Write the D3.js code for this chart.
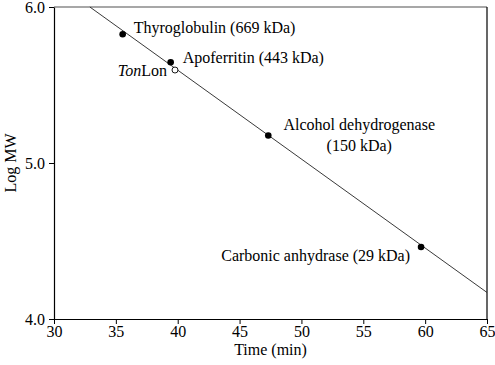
<!DOCTYPE html>
<html>
<head>
<meta charset="utf-8">
<script src="https://cdn.jsdelivr.net/npm/d3@7"></script>
<style>
  body { margin: 0; background: #fff; }
  svg text { font-family: "Liberation Serif", "Times New Roman", serif; fill: #000; }
</style>
</head>
<body>
<div id="chart"></div>
<script>
// Calibration standards: elution time (min) vs log MW
const proteins = ["Thyroglobulin", "Apoferritin", "Alcohol dehydrogenase", "Carbonic anhydrase"];
const proteinKda = [669, 443, 150, 29];
const proteinTime = [35.55, 39.43, 47.32, 59.67];
const proteinLogMw = [5.825, 5.646, 5.176, 4.462];

// TonLon sample (open circle)
const sampleTime = [39.78];
const sampleLogMw = [5.596];

// fitted line, drawn between two end points
const fitTime = [32.9, 65];
const fitLogMw = [6.0, 4.17];

const xTicks = [30, 35, 40, 45, 50, 55, 60, 65];
const yTicks = [4.0, 5.0, 6.0];

const width = 495;
const height = 365;
const margin = { top: 7, right: 8, bottom: 46, left: 54 };

const svg = d3
  .select("#chart")
  .append("svg")
  .attr("width", width)
  .attr("height", height);

const x = d3.scaleLinear().domain([30, 65]).range([margin.left, width - margin.right]);
const y = d3.scaleLinear().domain([4, 6]).range([height - margin.bottom, margin.top]);

const fontSize = "16px";

// frame: top grey, right black
svg
  .append("line")
  .attr("x1", x(30))
  .attr("x2", x(65))
  .attr("y1", y(6))
  .attr("y2", y(6))
  .attr("stroke", "#8a8a8a")
  .attr("stroke-width", 1.5);
svg
  .append("line")
  .attr("x1", x(65))
  .attr("x2", x(65))
  .attr("y1", y(6))
  .attr("y2", y(4))
  .attr("stroke", "#000")
  .attr("stroke-width", 1.2);

// axes
const xAxis = svg
  .append("g")
  .attr("transform", `translate(0,${y(4)})`)
  .call(d3.axisBottom(x).tickValues(xTicks).tickSize(5).tickPadding(2).tickSizeOuter(0));
const yAxis = svg
  .append("g")
  .attr("transform", `translate(${x(30)},0)`)
  .call(d3.axisLeft(y).tickValues(yTicks).tickFormat(d3.format(".1f")).tickSize(5).tickPadding(4).tickSizeOuter(0));

[xAxis, yAxis].forEach((a) => {
  a.select(".domain").attr("stroke", "#000").attr("stroke-width", 1.2);
  a.selectAll(".tick line").attr("stroke", "#000").attr("stroke-width", 1);
  a.selectAll("text")
    .style("font-family", '"Liberation Serif", serif')
    .style("font-size", fontSize)
    .attr("fill", "#000");
});

svg
  .append("text")
  .attr("x", (x(30) + x(65)) / 2)
  .attr("y", 355)
  .attr("text-anchor", "middle")
  .style("font-size", fontSize)
  .text("Time (min)");

svg
  .append("text")
  .attr("transform", `translate(16,${y(5)}) rotate(-90)`)
  .attr("text-anchor", "middle")
  .style("font-size", fontSize)
  .text("Log MW");

// fitted line
const fit = fitTime.map((t, i) => [t, fitLogMw[i]]);
svg
  .append("path")
  .datum(fit)
  .attr("d", d3.line().x((d) => x(d[0])).y((d) => y(d[1])))
  .attr("fill", "none")
  .attr("stroke", "#222")
  .attr("stroke-width", 0.9);

// standards
const standards = proteins.map((p, i) => ({
  name: p,
  kda: proteinKda[i],
  t: proteinTime[i],
  v: proteinLogMw[i],
}));

svg
  .selectAll(".std")
  .data(standards)
  .enter()
  .append("circle")
  .attr("class", "std")
  .attr("cx", (d) => x(d.t))
  .attr("cy", (d) => y(d.v))
  .attr("r", 3.3)
  .attr("fill", "#000");

svg
  .selectAll(".sample")
  .data(sampleTime)
  .enter()
  .append("circle")
  .attr("class", "sample")
  .attr("cx", (d) => x(d))
  .attr("cy", (d, i) => y(sampleLogMw[i]))
  .attr("r", 3)
  .attr("fill", "#fff")
  .attr("stroke", "#000")
  .attr("stroke-width", 0.9);

// labels
const lab = (tx, ty, anchor, str) =>
  svg
    .append("text")
    .attr("x", tx)
    .attr("y", ty)
    .attr("text-anchor", anchor)
    .style("font-size", fontSize)
    .text(str);

const s = standards;
lab(x(s[0].t) + 11, y(s[0].v) - 1, "start", `${s[0].name} (${s[0].kda} kDa)`);
lab(x(s[1].t) + 12, y(s[1].v) + 1, "start", `${s[1].name} (${s[1].kda} kDa)`);
lab(x(s[2].t) + 91, y(s[2].v) - 6, "middle", s[2].name);
lab(x(s[2].t) + 91, y(s[2].v) + 15, "middle", `(${s[2].kda} kDa)`);
lab(x(s[3].t) - 11, y(s[3].v) + 14, "end", `${s[3].name} (${s[3].kda} kDa)`);

const ton = svg
  .append("text")
  .attr("x", x(sampleTime[0]) - 8)
  .attr("y", y(sampleLogMw[0]) + 6)
  .attr("text-anchor", "end")
  .style("font-size", fontSize);
ton.append("tspan").style("font-style", "italic").text("Ton");
ton.append("tspan").text("Lon");
</script>
</body>
</html>
